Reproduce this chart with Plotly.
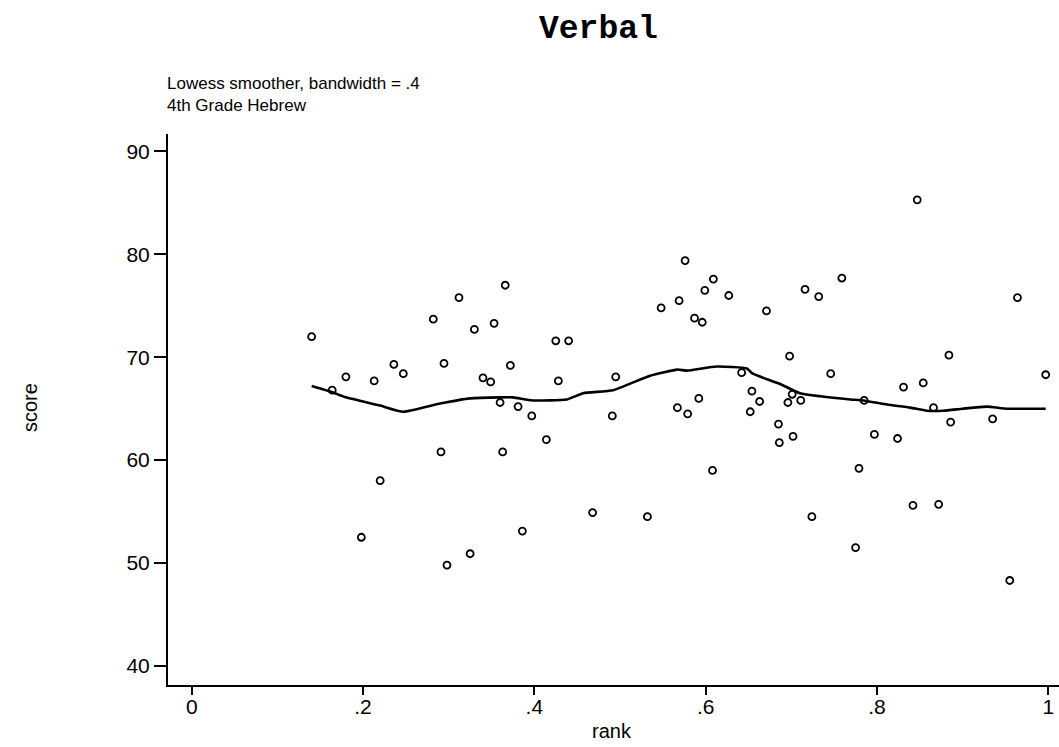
import plotly.graph_objects as go

# School-level verbal scores against percentile rank
rank = [0.140, 0.164, 0.180, 0.198, 0.213, 0.220, 0.236, 0.247, 0.282, 0.291,
        0.2945, 0.298, 0.312, 0.325, 0.330, 0.340, 0.349, 0.353, 0.360, 0.363,
        0.366, 0.372, 0.381, 0.386, 0.397, 0.414, 0.425, 0.428, 0.440, 0.468,
        0.491, 0.495, 0.532, 0.548, 0.567, 0.569, 0.576, 0.579, 0.587, 0.592,
        0.596, 0.599, 0.608, 0.609, 0.627, 0.642, 0.652, 0.654, 0.663, 0.671,
        0.685, 0.686, 0.696, 0.698, 0.701, 0.702, 0.711, 0.716, 0.724, 0.732,
        0.746, 0.759, 0.775, 0.779, 0.785, 0.797, 0.824, 0.831, 0.842, 0.847,
        0.854, 0.866, 0.872, 0.884, 0.886, 0.935, 0.955, 0.964, 0.997]
score = [72.0, 66.8, 68.1, 52.5, 67.7, 58.0, 69.3, 68.4, 73.7, 60.8,
         69.4, 49.8, 75.8, 50.9, 72.7, 68.0, 67.6, 73.3, 65.6, 60.8,
         77.0, 69.2, 65.2, 53.1, 64.3, 62.0, 71.6, 67.7, 71.6, 54.9,
         64.3, 68.1, 54.5, 74.8, 65.1, 75.5, 79.4, 64.5, 73.8, 66.0,
         73.4, 76.5, 59.0, 77.6, 76.0, 68.5, 64.7, 66.7, 65.7, 74.5,
         63.5, 61.7, 65.6, 70.1, 66.4, 62.3, 65.8, 76.6, 54.5, 75.9,
         68.4, 77.7, 51.5, 59.2, 65.8, 62.5, 62.1, 67.1, 55.6, 85.3,
         67.5, 65.1, 55.7, 70.2, 63.7, 64.0, 48.3, 75.8, 68.3]

# Lowess fitted values (bandwidth .4)
lowess_rank = [0.140, 0.164, 0.180, 0.220, 0.247, 0.290, 0.325, 0.360, 0.375,
               0.398, 0.438, 0.457, 0.492, 0.535, 0.567, 0.578, 0.613, 0.648,
               0.655, 0.687, 0.710, 0.734, 0.769, 0.784, 0.812, 0.839, 0.858,
               0.877, 0.900, 0.928, 0.952, 0.997]
lowess_score = [67.2, 66.6, 66.1, 65.3, 64.7, 65.5, 66.0, 66.1, 66.1,
                65.8, 65.9, 66.5, 66.8, 68.2, 68.8, 68.7, 69.1, 68.9,
                68.4, 67.4, 66.5, 66.2, 65.9, 65.8, 65.4, 65.1, 64.8,
                64.8, 65.0, 65.2, 65.0, 65.0]

x_ticks = [0, 0.2, 0.4, 0.6, 0.8, 1]
x_tick_text = ["0", ".2", ".4", ".6", ".8", "1"]
y_ticks = [40, 50, 60, 70, 80, 90]

W, H = 1059, 747
L, R, T, B = 168, 0, 134, 62
plot_w = W - L - R
plot_h = H - T - B


def px_x(px):
    return (px - L) / plot_w


def px_y(py):
    return (H - B - py) / plot_h


SANS = "Liberation Sans, Arial, sans-serif"

fig = go.Figure()
fig.add_trace(go.Scatter(
    x=rank, y=score, mode="markers",
    marker=dict(symbol="circle-open", size=7, color="black",
                line=dict(width=1.8, color="black")),
    showlegend=False,
))
fig.add_trace(go.Scatter(
    x=lowess_rank, y=lowess_score, mode="lines",
    line=dict(color="black", width=2.6, shape="spline", smoothing=0.5),
    showlegend=False,
))

axis_font = dict(family=SANS, size=21, color="black")

fig.update_layout(
    template="none",
    width=W, height=H,
    margin=dict(l=L, r=R, t=T, b=B),
    paper_bgcolor="white", plot_bgcolor="white",
    xaxis=dict(range=[-0.0277, 1.0125], tickvals=x_ticks, ticktext=x_tick_text,
               showline=True, linecolor="black", linewidth=2,
               ticks="outside", ticklen=8, tickwidth=2, tickcolor="black",
               ticklabelstandoff=-6,
               showgrid=False, zeroline=False, tickfont=axis_font),
    yaxis=dict(range=[38.14, 91.7], tickvals=y_ticks,
               showline=True, linecolor="black", linewidth=2,
               ticks="outside", ticklen=12, tickwidth=2, tickcolor="black",
               showgrid=False, zeroline=False, tickfont=axis_font),
    font=dict(family=SANS, color="black"),
)

fig.update_layout(annotations=[
    dict(text="<b>Verbal</b>", x=px_x(598), y=px_y(30), xref="paper", yref="paper",
         font=dict(family="Liberation Mono, Courier New, monospace", size=33, color="black"),
         showarrow=False, xanchor="center", yanchor="middle"),
    dict(text="Lowess smoother, bandwidth = .4<br>4th Grade Hebrew",
         x=px_x(165), y=px_y(95), xref="paper", yref="paper", showarrow=False,
         xanchor="left", yanchor="middle", align="left",
         font=dict(family=SANS, size=17, color="black")),
    dict(text="score", x=px_x(30), y=px_y(408), xref="paper", yref="paper",
         showarrow=False, textangle=-90, xanchor="center", yanchor="middle",
         font=dict(family=SANS, size=20, color="black")),
    dict(text="rank", x=px_x(612), y=px_y(731), xref="paper", yref="paper",
         showarrow=False, xanchor="center", yanchor="middle",
         font=dict(family=SANS, size=20, color="black")),
])

fig.write_html("out.html")
